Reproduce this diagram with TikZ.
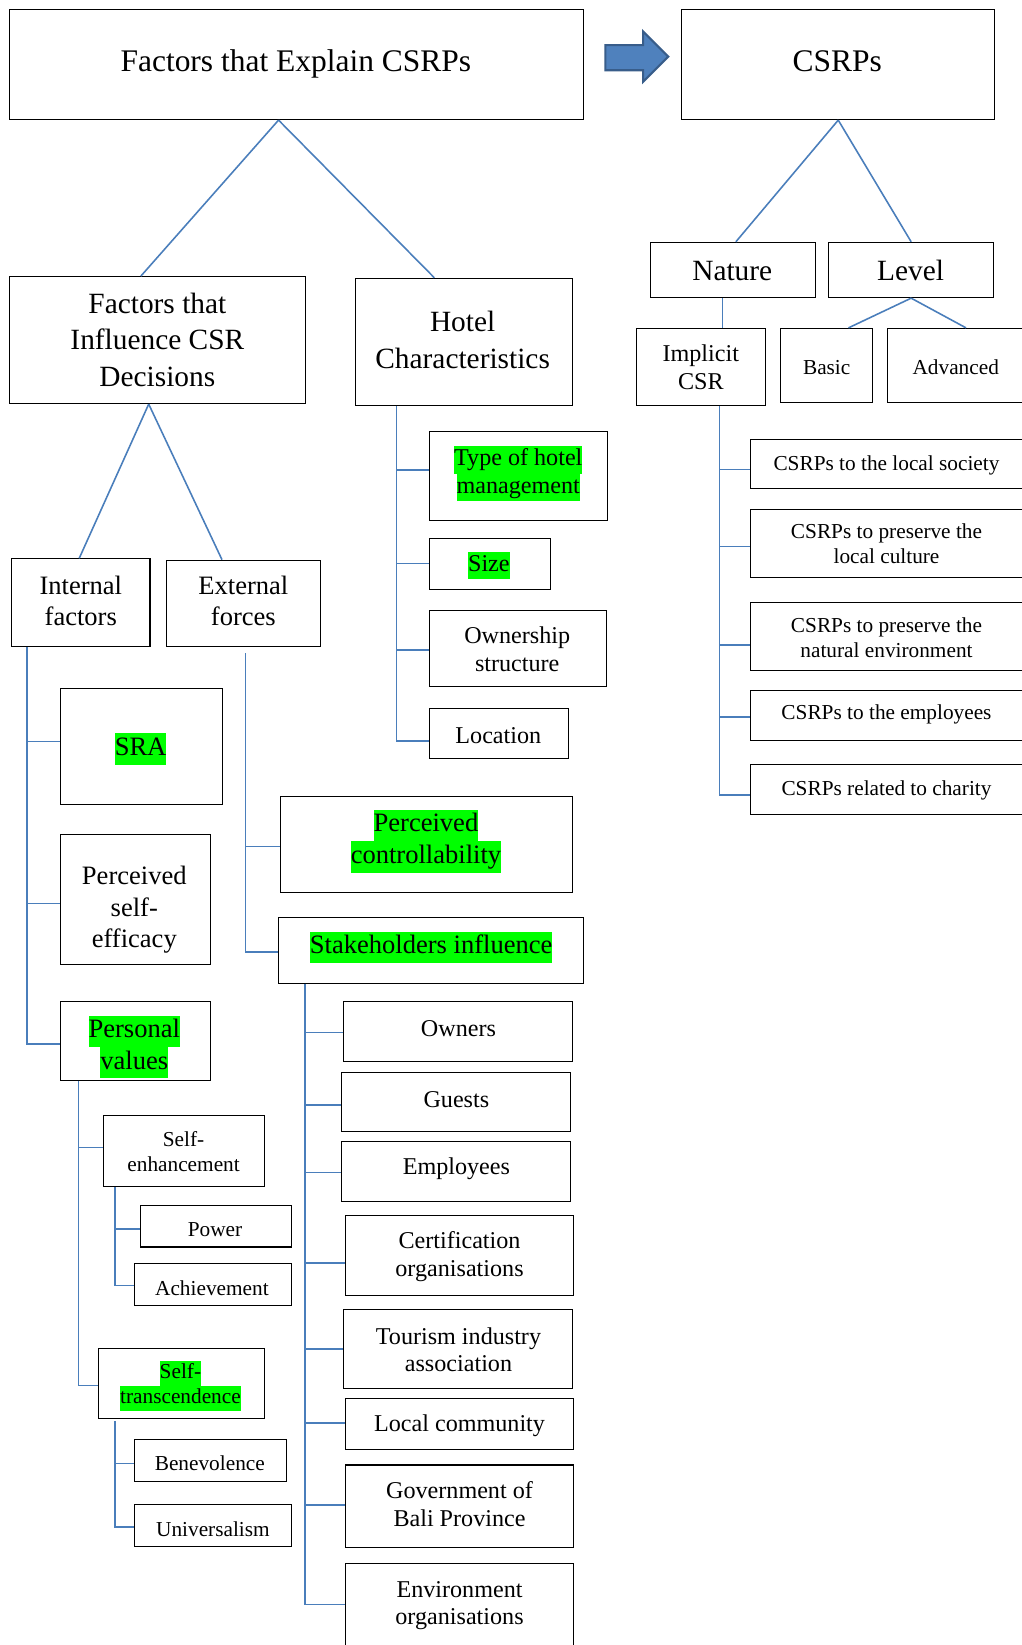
\documentclass[tikz,border=0pt]{standalone}
\usepackage{fontspec}
\setmainfont{Liberation Serif}
\definecolor{wireblue}{HTML}{4A7EBB}
\definecolor{hlgreen}{HTML}{00FF00}
\definecolor{arrowfill}{HTML}{4F81BD}
\definecolor{arrowedge}{HTML}{385D8A}
% green text marker, one line at a time
\newcommand{\hlt}[1]{{\setlength{\fboxsep}{0pt}\colorbox{hlgreen}{\strut#1}}}
% rectangle node from its corners: name, x1, y1, x2, y2
\newcommand{\bx}[5]{\node[cell, minimum width={(#4)-(#2)}, minimum height={(#5)-(#3)}] (#1) at ({((#2)+(#4))/2},{((#3)+(#5))/2}) {};}
\tikzset{
  cell/.style={draw=black, line width=1pt, rectangle, inner sep=0pt},
  wire/.style={draw=wireblue, line width=1.5pt},
  lbl/.style={align=center, inner sep=0pt, text=black},
  tA/.style={lbl, font=\fontsize{30}{34}\selectfont},
  tB/.style={lbl, font=\fontsize{28}{34.5}\selectfont},
  tC/.style={lbl, font=\fontsize{25.3}{30}\selectfont},
  tD/.style={lbl, font=\fontsize{23}{26.5}\selectfont},
  tE/.style={lbl, font=\fontsize{20.3}{23.5}\selectfont},
}
\begin{document}
\begin{tikzpicture}[x=1pt, y=-1pt]
\useasboundingbox (0,0) rectangle (974,1568);
\clip (0,0) rectangle (974,1568);
\fill[white] (0,0) rectangle (974,1568);

% ---------- boxes ----------
\bx{A}{9}{9}{556}{114}
\bx{csrps}{650}{9}{948}{114}
\bx{B}{9.5}{263.7}{291}{384.7}
\bx{C}{338.8}{265.3}{545.3}{386.3}
\bx{nat}{620}{231}{777.4}{283.7}
\bx{lev}{790}{231}{947}{283.7}
\bx{impl}{606.8}{313}{730}{386.6}
\bx{basic}{744}{313}{832}{384}
\bx{adv}{845.5}{313}{980}{384}
\bx{soc}{715.7}{419.3}{980}{465.4}
\bx{cul}{715.7}{485.4}{980}{550.5}
\bx{nenv}{715.7}{574}{980}{639.2}
\bx{cemp}{715.7}{657.9}{980}{705.9}
\bx{cha}{715.7}{729}{980}{776}
\bx{inf}{11}{532.7}{143}{616}
\bx{exf}{159}{534}{305.6}{616.6}
\bx{typ}{409}{411}{579}{496}
\bx{siz}{409}{513}{524.5}{561.6}
\bx{own}{409}{582}{578}{654.4}
\bx{loc}{409}{675.7}{542}{723}
\bx{sra}{57.3}{656}{211.9}{767.2}
\bx{pse}{57.3}{795.5}{200.2}{919}
\bx{pv}{57.3}{955}{200.2}{1029.5}
\bx{pc}{267.3}{759.6}{546}{850.4}
\bx{si}{265.9}{874.6}{555.8}{937.1}
\bx{se}{98.5}{1063.5}{252.4}{1131}
\bx{pow}{133.5}{1148.7}{277.9}{1188.6}
\bx{ach}{128.4}{1204.7}{277.9}{1244.3}
\bx{st}{93.7}{1285}{252.4}{1351.7}
\bx{ben}{128.4}{1372}{272.8}{1411.7}
\bx{uni}{128.4}{1434.4}{277.9}{1474.4}
\bx{owners}{327.5}{955}{546}{1011.5}
\bx{gue}{325.7}{1022.4}{544.2}{1078.8}
\bx{empl}{325.7}{1088.3}{544.2}{1144.8}
\bx{cert}{329.3}{1158.9}{547}{1234.9}
\bx{tour}{327.5}{1247.8}{546}{1323.5}
\bx{lc}{329.3}{1332.9}{547}{1381.5}
\bx{gov}{329.3}{1396.4}{547}{1475.2}
\bx{env}{329.3}{1490.6}{547}{1572}

% ---------- texts ----------
\node[tA] (A-t) at (282,61) {Factors that Explain CSRPs};
\node[tA] (csrps-t) at (798,58) {CSRPs};
\node[tB] (B-t) at (150,324) {Factors that\\Influence CSR\\Decisions};
\node[tB] (C-t) at (441,324) {Hotel\\Characteristics};
\node[tB] (nat-t) at (698,258) {Nature};
\node[tB] (lev-t) at (868,258) {Level};
\node[tD] (impl-t) at (668,350) {Implicit\\CSR};
\node[tE] (basic-t) at (788,350) {Basic};
\node[tE] (adv-t) at (911,350) {Advanced};
\node[tE] (soc-t) at (845,444) {CSRPs to the local society};
\node[tE] (cul-t) at (845,518.5) {CSRPs to preserve the\\local culture};
\node[tE] (nenv-t) at (845,608) {CSRPs to preserve the\\natural environment};
\node[tE] (cemp-t) at (845,681) {CSRPs to the employees};
\node[tE] (cha-t) at (845,753) {CSRPs related to charity};
\node[tC] (inf-t) at (77,573) {Internal\\factors};
\node[tC] (exf-t) at (232,573) {External\\forces};
\node[tD] (typ-t) at (494,451.5) {\hlt{Type of hotel}\\\hlt{management}};
\node[tD] (siz-t) at (466,539) {\hlt{Size}};
\node[tD] (own-t) at (493,619) {Ownership\\structure};
\node[tD] (loc-t) at (475,701) {Location};
\node[tC] (sra-t) at (134,714) {\hlt{SRA}};
\node[tC] (pse-t) at (128,867.5) {Perceived\\self-\\efficacy};
\node[tC] (pv-t) at (128,998) {\hlt{Personal}\\\hlt{values}};
\node[tC] (pc-t) at (406,802) {\hlt{Perceived}\\\hlt{controllability}};
\node[tC] (si-t) at (411,903) {\hlt{Stakeholders influence}};
\node[tE] (se-t) at (175,1097.5) {Self-\\enhancement};
\node[tE] (pow-t) at (205,1172) {Power};
\node[tE] (ach-t) at (202,1228) {Achievement};
\node[tE] (st-t) at (172,1321) {\hlt{Self-}\\\hlt{transcendence}};
\node[tE] (ben-t) at (200,1395) {Benevolence};
\node[tE] (uni-t) at (203,1458) {Universalism};
\node[tD] (owners-t) at (437,980) {Owners};
\node[tD] (gue-t) at (435,1048) {Guests};
\node[tD] (empl-t) at (435,1114) {Employees};
\node[tD] (cert-t) at (438,1197.5) {Certification\\organisations};
\node[tD] (tour-t) at (437,1286.5) {Tourism industry\\association};
\node[tD] (lc-t) at (438,1359) {Local community};
\node[tD] (gov-t) at (438,1433.5) {Government of\\Bali Province};
\node[tD] (env-t) at (438,1530.5) {Environment\\organisations};

% ---------- block arrow between the two trees ----------
\filldraw[fill=arrowfill, draw=arrowedge, line width=2pt, line join=miter]
  (577,43) -- (613,43) -- (613,30) -- (637,54) -- (613,78) -- (613,67) -- (577,67) -- cycle;

% ---------- splits ----------
\draw[wire] ([xshift=-17pt]A.south) -- ([xshift=-16pt]B.north);
\draw[wire] ([xshift=-17pt]A.south) -- ([xshift=-28pt]C.north);
\draw[wire] ([xshift=-8.5pt]B.south) -- ([xshift=-1.5pt]inf.north);
\draw[wire] ([xshift=-8.5pt]B.south) -- ([xshift=-20.7pt]exf.north);
\draw[wire] (csrps.south) -- ([xshift=2.7pt]nat.north);
\draw[wire] (csrps.south) -- (lev.north);
\draw[wire] (lev.south) -- ([xshift=20.8pt]basic.north);
\draw[wire] (lev.south) -- ([xshift=8pt]adv.north);
\draw[wire] ([xshift=-10pt]nat.south) -- ([xshift=20.3pt]impl.north);

% ---------- trunk columns ----------
\coordinate (xHot) at (378,0);
\coordinate (xInt) at (25.5,0);
\coordinate (xExt) at (234,0);
\coordinate (xPV) at (74.8,0);
\coordinate (xSE) at (109.8,0);
\coordinate (xST) at (109.8,0);
\coordinate (xSH) at (290.7,0);
\coordinate (xCS) at (686,0);

% hotel characteristics
\coordinate (typB) at ([yshift=5.5pt]typ.west);
\coordinate (sizB) at (siz.west);
\coordinate (ownB) at ([yshift=-1.5pt]own.west);
\coordinate (locB) at ([yshift=-7pt]loc.west);
\draw[wire] (xHot |- C.south) -- (xHot |- locB) -- (locB);
\foreach \b in {typB,sizB,ownB} \draw[wire] (xHot |- \b) -- (\b);

% internal factors
\coordinate (sraB) at ([yshift=4.8pt]sra.west);
\coordinate (pseB) at ([yshift=-4pt]pse.west);
\coordinate (pvB) at ([yshift=-3pt]pv.west);
\draw[wire] (xInt |- inf.south) -- (xInt |- pvB) -- (pvB);
\foreach \b in {sraB,pseB} \draw[wire] (xInt |- \b) -- (\b);

% external forces
\coordinate (pcB) at ([yshift=-2pt]pc.west);
\coordinate (siB) at ([yshift=-1.4pt]si.west);
\draw[wire] ([yshift=-5.5pt]xExt |- exf.south) -- (xExt |- siB) -- (siB);
\draw[wire] (xExt |- pcB) -- (pcB);

% personal values
\coordinate (seB) at ([yshift=3.3pt]se.west);
\coordinate (stB) at ([yshift=-2.4pt]st.west);
\draw[wire] (xPV |- pv.south) -- (xPV |- stB) -- (stB);
\draw[wire] (xPV |- seB) -- (seB);

% self-enhancement
\coordinate (powB) at ([yshift=-2.6pt]pow.west);
\coordinate (achB) at ([yshift=-1pt]ach.west);
\draw[wire] (xSE |- se.south) -- (xSE |- achB) -- (achB);
\draw[wire] (xSE |- powB) -- (powB);

% self-transcendence
\coordinate (benB) at ([yshift=-3pt]ben.west);
\coordinate (uniB) at ([yshift=-1.2pt]uni.west);
\draw[wire] ([yshift=-2.3pt]xST |- st.south) -- (xST |- uniB) -- (uniB);
\draw[wire] (xST |- benB) -- (benB);

% stakeholders
\coordinate (ownersB) at ([yshift=-1pt]owners.west);
\coordinate (gueB) at ([yshift=-2.8pt]gue.west);
\coordinate (emplB) at ([yshift=-1pt]empl.west);
\coordinate (certB) at ([yshift=-7pt]cert.west);
\coordinate (tourB) at (tour.west);
\coordinate (lcB) at ([yshift=1pt]lc.west);
\coordinate (govB) at ([yshift=1pt]gov.west);
\coordinate (envB) at ([yshift=2pt]env.west);
\draw[wire] (xSH |- si.south) -- (xSH |- envB) -- (envB);
\foreach \b in {ownersB,gueB,emplB,certB,tourB,lcB,govB} \draw[wire] (xSH |- \b) -- (\b);

% implicit CSR practices
\coordinate (socB) at ([yshift=-5pt]soc.west);
\coordinate (culB) at ([yshift=-3pt]cul.west);
\coordinate (nenvB) at ([yshift=-8.4pt]nenv.west);
\coordinate (cempB) at ([yshift=-1.4pt]cemp.west);
\coordinate (chaB) at ([yshift=-5.2pt]cha.west);
\draw[wire] (xCS |- impl.south) -- (xCS |- chaB) -- (chaB);
\foreach \b in {socB,culB,nenvB,cempB} \draw[wire] (xCS |- \b) -- (\b);
\end{tikzpicture}
\end{document}
